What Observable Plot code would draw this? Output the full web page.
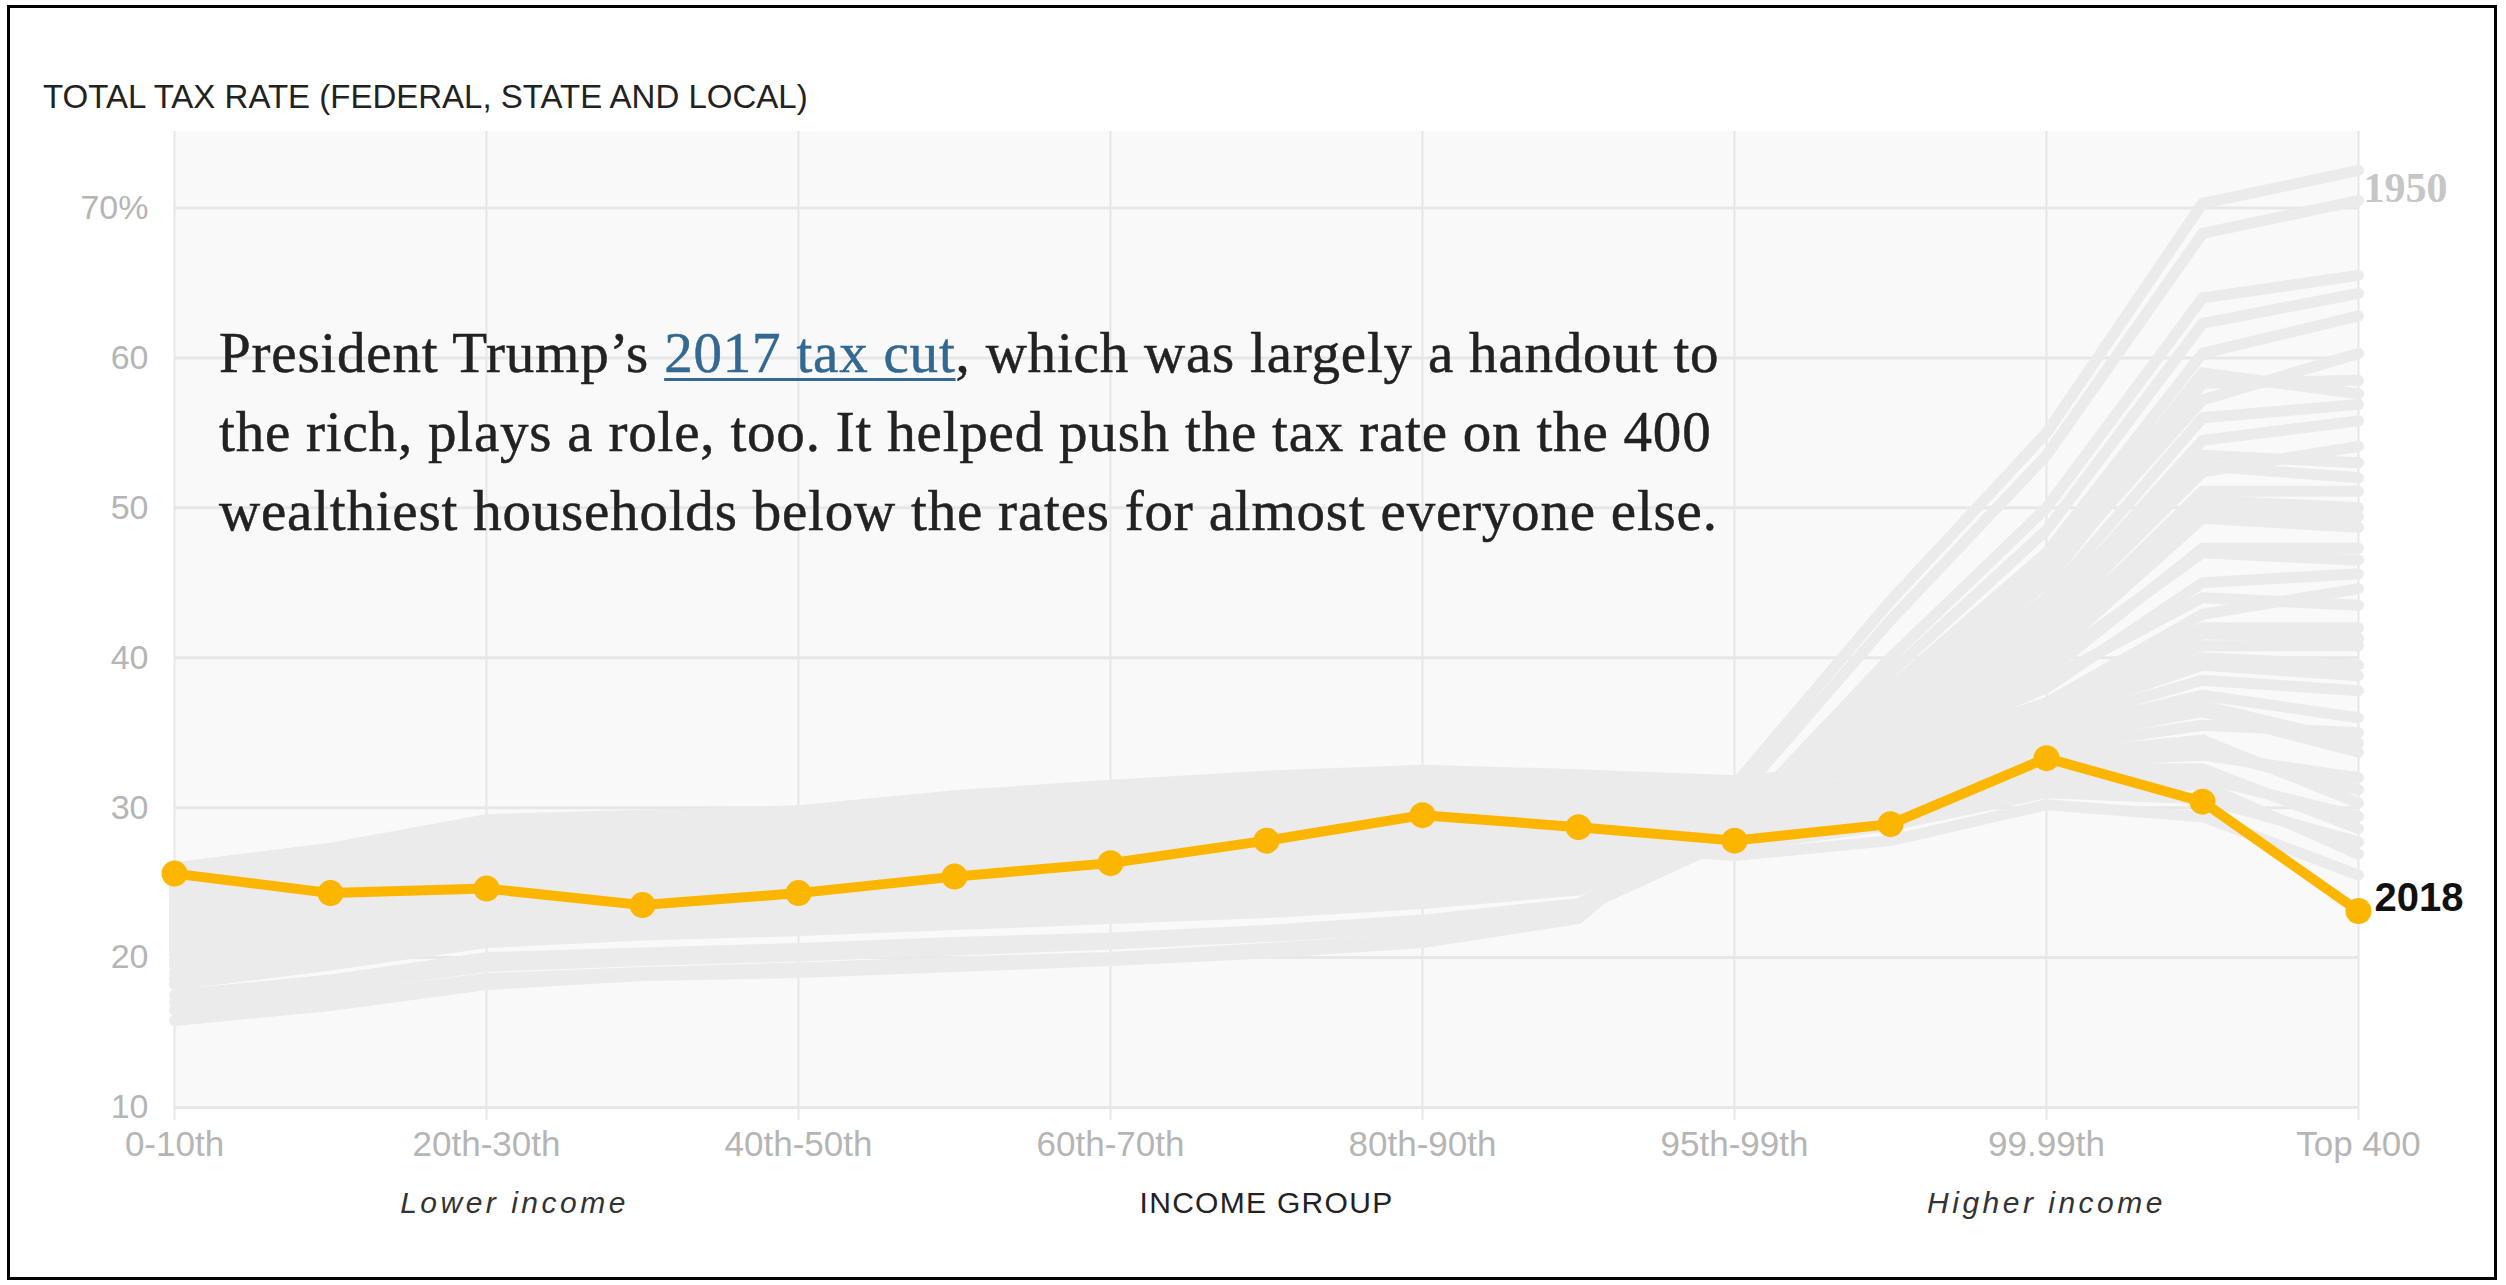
<!DOCTYPE html>
<html>
<head>
<meta charset="utf-8">
<script src="https://cdn.jsdelivr.net/npm/d3@7"></script>
<script src="https://cdn.jsdelivr.net/npm/@observablehq/plot@0.6"></script>
<style>
html, body { margin: 0; padding: 0; background: #fff; width: 2506px; height: 1285px; overflow: hidden; position: relative; }
#frame { position: absolute; left: 7px; top: 5px; width: 2490px; height: 1275px; border: 3px solid #000; box-sizing: border-box; z-index: 5; pointer-events: none; }
#title { position: absolute; left: 43px; top: 79px; font-family: "Liberation Sans", Arial, sans-serif; font-size: 33px; line-height: 36px; color: #222; white-space: nowrap; }
#chart { position: absolute; left: 0; top: 120px; width: 2506px; }
#note { position: absolute; left: 219px; top: 313px; font-family: "Liberation Serif", "Times New Roman", serif; font-size: 57px; letter-spacing: 0.8px; line-height: 79px; color: #222; -webkit-text-stroke: 0.5px #222; white-space: nowrap; z-index: 3; }
#note a { color: #326891; -webkit-text-stroke: 0.5px #326891; text-decoration: underline; text-decoration-thickness: 3px; text-underline-offset: 6px; }
</style>
</head>
<body>
<div id="frame"></div>
<div id="title">TOTAL TAX RATE (FEDERAL, STATE AND LOCAL)</div>
<div id="chart"></div>
<div id="note">President Trump’s <a href="#">2017 tax cut</a>, which was largely a handout to<br>the rich, plays a role, too. It helped push the tax rate on the 400<br>wealthiest households below the rates for almost everyone else.</div>
<script>
// Income groups (x categories)
const categories = ["0-10th","10th-20th","20th-30th","30th-40th","40th-50th","50th-60th","60th-70th","70th-80th","80th-90th","90th-95th","95th-99th","99th-99.9th","99.99th","Top 0.01%","Top 400"];
// Labelled ticks
const tickCategories = ["0-10th","20th-30th","40th-50th","60th-70th","80th-90th","95th-99th","99.99th","Top 400"];
const yTicks = [10, 20, 30, 40, 50, 60, 70];

// 2018 total tax rate by income group (%)
const rate2018 = [25.6, 24.3, 24.6, 23.5, 24.3, 25.4, 26.3, 27.8, 29.5, 28.7, 27.8, 28.9, 33.3, 30.4, 23.1];

// 1950 (top grey line, labelled)
const rate1950 = [15.8, 16.8, 18.2, 18.8, 19.0, 19.4, 19.8, 20.3, 21.0, 22.6, 31.5, 43.8, 55.0, 70.3, 72.5];

// Other earlier years (grey lines)
const earlierYears = [
  [16.5, 17.3, 18.6, 19.0, 19.3, 19.7, 20.0, 20.6, 21.3, 22.8, 30.5, 42.5, 53.5, 68.3, 70.5],
  [17.5, 18.5, 20.0, 20.3, 20.6, 21.0, 21.3, 21.8, 22.5, 23.6, 29.0, 40.0, 50.0, 64.0, 65.5],
  [18.2, 19.5, 21.0, 21.5, 21.8, 22.2, 22.6, 23.0, 23.6, 24.5, 28.8, 39.0, 48.5, 62.3, 64.3],
  [19.0, 20.2, 21.8, 22.2, 22.6, 23.0, 23.4, 23.8, 24.4, 25.2, 28.5, 38.0, 47.0, 60.3, 62.8],
  [20.6, 21.5, 22.5, 23.0, 23.3, 23.8, 24.2, 24.7, 25.3, 26.0, 28.6, 37.0, 45.5, 57.2, 60.3],
  [19.5, 20.8, 22.0, 22.5, 22.9, 23.4, 23.8, 24.3, 24.9, 25.6, 28.4, 36.5, 45.0, 58.3, 58.5],
  [17.0, 18.0, 19.4, 19.8, 20.1, 20.5, 20.9, 21.4, 22.0, 23.2, 28.0, 37.5, 46.0, 59.0, 57.6],
  [19.8, 21.0, 22.3, 22.8, 23.2, 23.7, 24.1, 24.6, 25.2, 25.8, 28.2, 36.0, 44.0, 56.0, 56.9],
  [21.0, 22.0, 23.2, 23.6, 24.0, 24.5, 25.0, 25.5, 26.0, 26.6, 28.8, 35.5, 43.0, 54.5, 55.8],
  [20.5, 21.8, 23.0, 23.5, 24.0, 24.6, 25.2, 25.8, 26.4, 27.0, 29.0, 35.0, 42.0, 52.4, 54.1],
  [20.2, 21.4, 22.8, 23.2, 23.6, 24.1, 24.6, 25.1, 25.7, 26.3, 28.7, 35.5, 43.5, 53.5, 53.0],
  [18.6, 19.8, 21.3, 21.8, 22.2, 22.6, 23.0, 23.5, 24.1, 24.9, 28.3, 35.8, 42.5, 52.8, 52.0],
  [21.8, 22.8, 24.0, 24.4, 24.8, 25.4, 26.0, 26.6, 27.2, 27.6, 29.2, 34.5, 41.0, 51.1, 51.1],
  [21.2, 22.4, 23.6, 24.0, 24.5, 25.0, 25.6, 26.2, 26.8, 27.3, 29.3, 34.8, 41.5, 50.5, 50.0],
  [21.6, 22.6, 23.9, 24.3, 24.7, 25.3, 25.9, 26.5, 27.1, 27.5, 29.5, 34.6, 40.5, 49.8, 49.4],
  [22.5, 23.5, 24.8, 25.2, 25.6, 26.2, 26.8, 27.4, 28.0, 28.4, 29.6, 34.0, 40.0, 49.3, 48.7],
  [23.0, 24.2, 25.6, 26.0, 26.5, 27.2, 27.8, 28.4, 29.0, 29.2, 30.0, 34.0, 39.0, 47.3, 47.3],
  [22.2, 23.3, 24.6, 25.0, 25.5, 26.0, 26.7, 27.3, 27.9, 28.2, 29.8, 34.2, 39.5, 47.0, 46.5],
  [22.0, 23.6, 25.0, 25.6, 26.2, 27.0, 27.8, 28.6, 29.4, 29.6, 30.2, 33.5, 38.0, 45.0, 45.6],
  [23.8, 25.0, 26.6, 27.0, 27.5, 28.2, 28.8, 29.4, 30.0, 30.2, 30.6, 33.5, 37.0, 42.9, 44.6],
  [23.4, 24.6, 26.2, 26.6, 27.0, 27.8, 28.4, 29.0, 29.6, 29.8, 30.4, 33.8, 38.5, 44.0, 43.5],
  [24.8, 26.0, 27.8, 28.2, 28.5, 29.3, 29.9, 30.5, 31.1, 31.0, 31.1, 33.2, 36.8, 42.0, 42.0],
  [24.6, 25.9, 27.6, 28.0, 28.4, 29.2, 29.8, 30.4, 31.0, 30.9, 31.0, 33.3, 36.6, 41.6, 41.3],
  [24.5, 25.8, 27.5, 27.8, 28.2, 29.0, 29.6, 30.2, 30.8, 30.8, 31.0, 33.5, 36.5, 40.8, 40.8],
  [25.2, 26.5, 28.3, 28.7, 29.1, 29.9, 30.5, 31.1, 31.6, 31.4, 31.4, 33.0, 35.8, 40.0, 39.5],
  [25.0, 26.3, 28.0, 28.4, 28.8, 29.6, 30.2, 30.8, 31.4, 31.2, 31.2, 33.0, 36.0, 39.5, 38.8],
  [25.5, 26.8, 28.6, 29.0, 29.4, 30.2, 30.8, 31.4, 31.9, 31.7, 31.6, 33.0, 35.5, 38.5, 37.8],
  [25.8, 27.0, 28.9, 29.2, 29.6, 30.5, 31.2, 31.8, 32.2, 32.0, 31.7, 32.8, 35.0, 37.5, 36.0],
  [24.2, 25.5, 27.2, 27.6, 28.0, 28.8, 29.5, 30.1, 30.7, 30.6, 30.6, 32.0, 34.0, 35.5, 35.0],
  [25.9, 27.2, 29.0, 29.4, 29.7, 30.6, 31.3, 31.9, 32.4, 32.1, 31.8, 32.6, 34.8, 36.8, 34.3],
  [26.0, 27.3, 29.2, 29.5, 29.8, 30.8, 31.5, 32.1, 32.5, 32.2, 31.8, 32.5, 34.5, 36.4, 33.7],
  [23.2, 24.4, 26.0, 26.4, 26.8, 27.6, 28.4, 29.0, 29.6, 29.4, 29.4, 31.0, 33.0, 33.5, 32.0],
  [23.6, 24.8, 26.4, 26.8, 27.2, 28.0, 28.8, 29.4, 30.0, 29.8, 29.8, 31.2, 33.2, 33.8, 31.2],
  [24.0, 25.2, 27.0, 27.4, 27.8, 28.6, 29.4, 30.0, 30.6, 30.4, 30.2, 31.5, 33.5, 34.5, 30.3],
  [22.4, 23.6, 25.2, 25.6, 26.0, 26.9, 27.7, 28.3, 28.9, 28.7, 28.5, 30.0, 32.0, 32.0, 29.4],
  [22.8, 24.0, 25.8, 26.2, 26.6, 27.4, 28.2, 28.8, 29.4, 29.2, 29.0, 30.5, 32.6, 32.6, 28.6],
  [21.0, 22.3, 24.0, 24.6, 25.2, 26.1, 26.9, 27.5, 28.1, 27.8, 27.4, 28.8, 31.0, 30.6, 27.7],
  [21.5, 22.8, 24.5, 25.0, 25.5, 26.4, 27.2, 27.8, 28.4, 28.2, 28.0, 29.5, 31.5, 31.5, 26.9],
  [20.8, 22.0, 23.6, 24.2, 24.8, 25.8, 26.6, 27.2, 27.8, 27.5, 26.8, 27.8, 30.2, 29.4, 25.5]
];

const rows2018 = categories.map((g, i) => ({group: g, rate: rate2018[i]}));
const greyRows = [rate1950, ...earlierYears].flatMap((arr, k) => arr.map((v, i) => ({series: k, group: categories[i], rate: v})));
const last1950 = {group: categories[14], rate: rate1950[14]};
const last2018 = rows2018[14];

const sans = "Liberation Sans, Arial, sans-serif";
const chart = Plot.plot({
  width: 2506,
  height: 1130,
  marginLeft: 174,
  marginRight: 148,
  marginTop: 11,
  marginBottom: 143,
  style: {background: "transparent", overflow: "visible", fontFamily: sans, maxWidth: "none"},
  x: {type: "point", domain: categories, padding: 0},
  y: {domain: [10, 75.1]},
  marks: [
    Plot.frame({fill: "#f9f9f9", stroke: null}),
    Plot.gridY({ticks: yTicks, stroke: "#e7e7e7", strokeWidth: 3, strokeOpacity: 1}),
    Plot.gridX({ticks: tickCategories, stroke: "#e7e7e7", strokeWidth: 2, strokeOpacity: 1}),
    Plot.line(greyRows, {x: "group", y: "rate", z: "series", stroke: "#ebebeb", strokeWidth: 11}),
    Plot.line(rows2018, {x: "group", y: "rate", stroke: "#fdb600", strokeWidth: 10}),
    Plot.dot(rows2018, {x: "group", y: "rate", r: 13, fill: "#fdb600", stroke: null}),
    Plot.axisY({ticks: yTicks, tickSize: 0, tickPadding: 26, tickFormat: d => d === 70 ? "70%" : String(d), fill: "#b5b5b5", fontSize: 34, label: null}),
    Plot.axisX({ticks: tickCategories, tickSize: 13, tickPadding: 11, stroke: "#e7e7e7", strokeWidth: 2, strokeOpacity: 1, fill: "#b5b5b5", fontSize: 35, label: null}),
    Plot.text([last1950], {x: "group", y: "rate", text: () => "1950", textAnchor: "start", dx: 5, dy: 18, fill: "#c6c6c6", fontSize: 42, fontWeight: "bold", fontFamily: "Liberation Serif, serif"}),
    Plot.text([last2018], {x: "group", y: "rate", text: () => "2018", textAnchor: "start", dx: 16, dy: -13, fill: "#111", fontSize: 40, fontWeight: "bold", fontFamily: sans}),
    Plot.text([{group: "20th-30th", label: "Lower income"}], {x: "group", text: "label", frameAnchor: "bottom", dx: 28, dy: 105, fontStyle: "italic", fontSize: 30, fill: "#333"}),
    Plot.text([{group: "70th-80th", label: "INCOME GROUP"}], {x: "group", text: "label", frameAnchor: "bottom", dy: 105, fontSize: 30, fill: "#222"}),
    Plot.text([{group: "99.99th", label: "Higher income"}], {x: "group", text: "label", frameAnchor: "bottom", dy: 105, fontStyle: "italic", fontSize: 30, fill: "#333"})
  ]
});
document.getElementById("chart").appendChild(chart);

// letter spacing for the bottom annotations
d3.select(chart).selectAll("text").each(function() {
  const t = this.textContent;
  if (t === "Lower income" || t === "Higher income") this.style.letterSpacing = "3.5px";
  if (t === "INCOME GROUP") this.style.letterSpacing = "1.3px";
});
</script>
</body>
</html>
